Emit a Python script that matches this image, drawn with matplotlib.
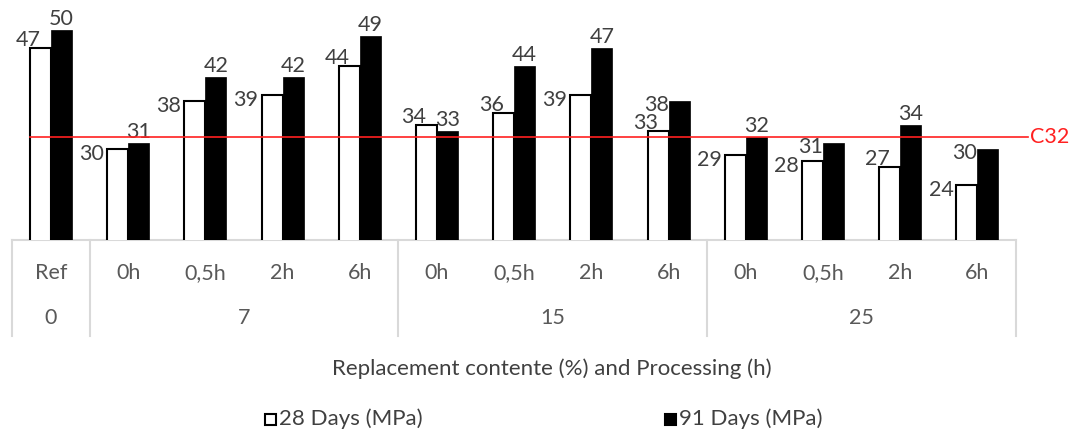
import matplotlib.pyplot as plt
from matplotlib.patches import Rectangle

plt.rcParams['font.family'] = ['Lato', 'DejaVu Sans']

hours = ['Ref', '0h', '0,5h', '2h', '6h', '0h', '0,5h', '2h', '6h', '0h', '0,5h', '2h', '6h']
contents = ['0', '7', '15', '25']
group_sizes = [1, 4, 4, 4]
days28 = [47, 30, 38, 39, 44, 34, 36, 39, 33, 29, 28, 27, 24]
days91 = [50, 31, 42, 42, 49, 33, 44, 47, 38, 32, 31, 34, 30]
c32 = 32

# where each value label sits ('top' = over the bar, 'side' = to its left)
lab28 = ['top', 'side', 'side', 'side', 'top', 'top', 'top', 'side', 'top', 'side', 'side', 'top', 'side']
lab91 = ['top', 'top', 'top', 'top', 'top', 'top', 'top', 'top', 'side', 'top', 'side', 'top', 'side']

W, H = 1070, 432
fs = 15.5
fig = plt.figure(figsize=(W / 100, H / 100), dpi=100)
ax = fig.add_axes([12.4 / W, 192 / H, 1003.6 / W, 240 / H])

bw = 0.272
x = list(range(len(hours)))
ax.bar([i - bw / 2 for i in x], days28, width=bw, color='white', edgecolor='black',
       linewidth=1.5, zorder=3)
ax.bar([i + bw / 2 for i in x], days91, width=bw, color='black', edgecolor='black',
       linewidth=0.5, zorder=3)
ax.set_xlim(-0.5, len(hours) - 0.5)
ax.set_ylim(14.7, 55)

txt = '#404040'
for i in x:
    if lab28[i] == 'top':
        ax.annotate(str(days28[i]), (i - bw, days28[i]), xytext=(-2, 8), textcoords='offset pixels',
                    ha='center', va='center', fontsize=fs, color=txt, zorder=4, annotation_clip=False)
    else:
        ax.annotate(str(days28[i]), (i - bw, days28[i]), xytext=(-3, -5), textcoords='offset pixels',
                    ha='right', va='center', fontsize=fs, color=txt, zorder=4, annotation_clip=False)
    if lab91[i] == 'top':
        ax.annotate(str(days91[i]), (i + bw / 2, days91[i]), xytext=(0, 11), textcoords='offset pixels',
                    ha='center', va='center', fontsize=fs, color=txt, zorder=4, annotation_clip=False)
    else:
        ax.annotate(str(days91[i]), (i + bw / 2, days91[i]), xytext=(-23, -4), textcoords='offset pixels',
                    ha='center', va='center', fontsize=fs, color=txt, zorder=4, annotation_clip=False)

# C32 reference line
ax.plot([-bw, 12.65], [c32, c32], color='#ff2020', lw=1.2, zorder=5, clip_on=False)
ax.text(12.68, c32, 'C32', color='#ff2020', fontsize=fs, va='center', ha='left', clip_on=False)

# category table under the bars
for s in ['top', 'right', 'left']:
    ax.spines[s].set_visible(False)
ax.spines['bottom'].set_color('#d9d9d9')
ax.spines['bottom'].set_linewidth(1.5)
ax.set_xticks([])
ax.set_yticks([])
tr = ax.get_xaxis_transform()
edges = [-0.5]
for g in group_sizes:
    edges.append(edges[-1] + g)
for e in edges:
    ax.plot([e, e], [0, -0.4], transform=tr, color='#d9d9d9', lw=1.5, clip_on=False)
for i, h in enumerate(hours):
    ax.text(i, -0.1375, h, transform=tr, ha='center', va='center', fontsize=fs, color='#595959')
for k, c in enumerate(contents):
    ax.text((edges[k] + edges[k + 1]) / 2, -0.325, c, transform=tr, ha='center', va='center',
            fontsize=fs, color='#595959')

fig.text(552 / W, 1 - 369 / H, 'Replacement contente (%) and Processing (h)', ha='center', va='center',
         fontsize=16, color='#404040')

# legend
for sx, face, lbl in [(265, 'white', '28 Days (MPa)'), (665, 'black', '91 Days (MPa)')]:
    fig.patches.append(Rectangle((sx / W, 1 - 424.5 / H), 11 / W, 11 / H, transform=fig.transFigure,
                                 facecolor=face, edgecolor='black', lw=1.5))
    fig.text((sx + 14) / W, 1 - 419 / H, lbl, ha='left', va='center', fontsize=16, color='#404040')

fig.savefig('out.png', dpi=100)
